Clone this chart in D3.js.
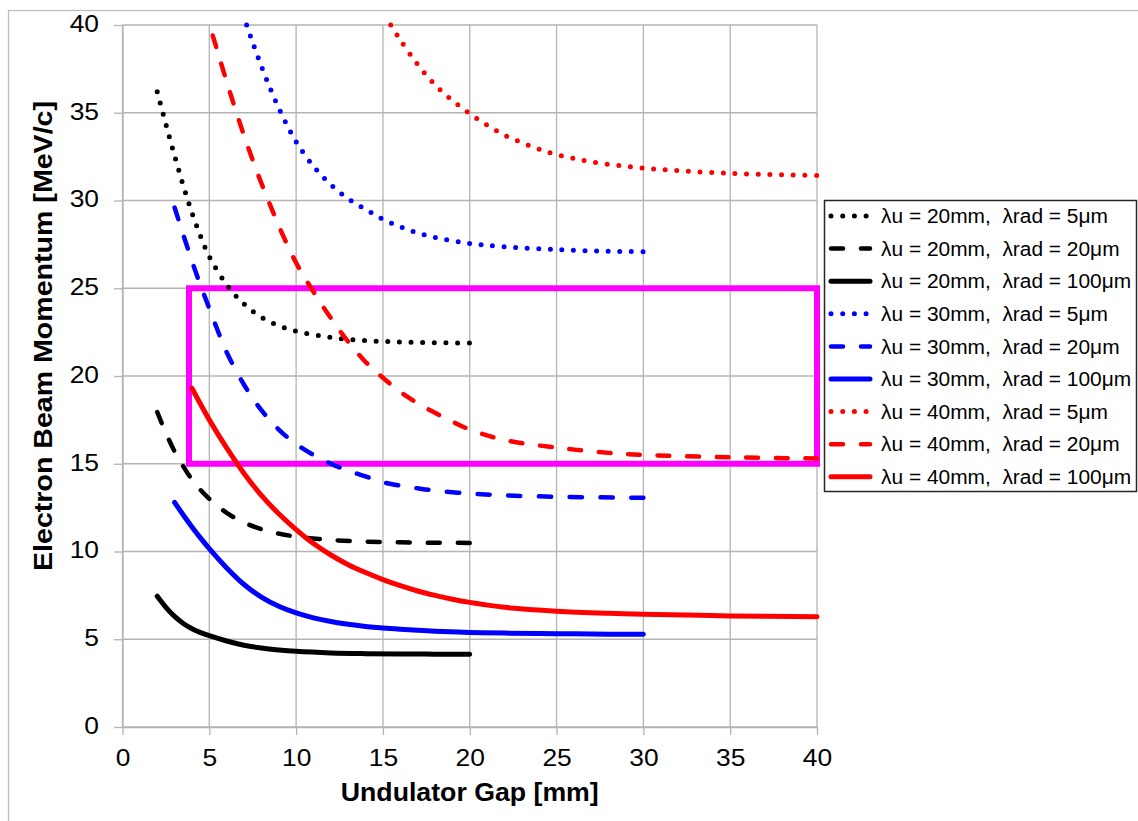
<!DOCTYPE html>
<html>
<head>
<meta charset="utf-8">
<script src="https://cdn.jsdelivr.net/npm/d3@7"></script>
<style>
  html, body { margin: 0; padding: 0; background: #ffffff; }
  svg { display: block; font-family: "Liberation Sans", Arial, Helvetica, sans-serif; }
  .pre { white-space: pre; }
</style>
</head>
<body>
<svg id="chart" width="1138" height="821"></svg>
<script>
// Axis ticks
const xTicks = [0, 5, 10, 15, 20, 25, 30, 35, 40];
const yTicks = [0, 5, 10, 15, 20, 25, 30, 35, 40];

// Undulator gap [mm] and beam momentum [MeV/c] for each (λu, λrad) pair
const gap20_5   = [2, 2.5, 3, 3.5, 4, 4.5, 5, 6, 7, 8, 9, 10, 12, 14, 16, 18, 20];
const mom20_5   = [36.2, 34.35, 32.55, 30.85, 29.3, 27.95, 26.8, 25.2, 24.1, 23.35, 22.87, 22.56, 22.2, 22.02, 21.94, 21.9, 21.88];
const gap20_20  = [2, 2.5, 3, 3.5, 4, 4.5, 5, 6, 7, 8, 9, 10, 12, 14, 16, 18, 20];
const mom20_20  = [17.95, 16.75, 15.7, 14.85, 14.1, 13.5, 13.0, 12.2, 11.65, 11.27, 11.02, 10.85, 10.66, 10.56, 10.52, 10.5, 10.49];
const gap20_100 = [2, 2.5, 3, 3.5, 4, 4.5, 5, 6, 7, 8, 9, 10, 12, 14, 16, 18, 20];
const mom20_100 = [7.45, 6.82, 6.3, 5.9, 5.6, 5.38, 5.2, 4.9, 4.66, 4.5, 4.39, 4.31, 4.22, 4.18, 4.16, 4.15, 4.14];

const gap30_5   = [7.15, 7.5, 8, 8.5, 9, 9.5, 10, 11, 12, 13, 14, 15, 16, 17, 18, 20, 22, 25, 28, 30];
const mom30_5   = [40, 39.0, 37.65, 36.4, 35.27, 34.25, 33.35, 31.95, 30.9, 30.1, 29.5, 28.93, 28.5, 28.15, 27.9, 27.55, 27.37, 27.2, 27.11, 27.08];
const gap30_20  = [3, 3.5, 4, 4.5, 5, 5.5, 6, 7, 8, 9, 10, 11, 12, 13, 14, 15, 16, 17, 18, 20, 22, 25, 30];
const mom30_20  = [29.6, 28.05, 26.55, 25.15, 23.85, 22.55, 21.35, 19.5, 18.05, 16.95, 16.12, 15.5, 15.0, 14.6, 14.28, 13.95, 13.75, 13.6, 13.47, 13.3, 13.2, 13.12, 13.06];
const gap30_100 = [3, 3.5, 4, 4.5, 5, 6, 7, 8, 9, 10, 11, 12, 13, 14, 15, 16, 17, 18, 20, 22, 25, 28, 30];
const mom30_100 = [12.8, 12.08, 11.4, 10.76, 10.16, 9.06, 8.12, 7.4, 6.88, 6.5, 6.22, 6.01, 5.85, 5.73, 5.64, 5.57, 5.51, 5.46, 5.39, 5.35, 5.32, 5.29, 5.28];

const gap40_5   = [15.45, 16, 17, 18, 19, 20, 21, 22, 23, 24, 25, 27, 30, 32, 35, 38, 40];
const mom40_5   = [40, 39.15, 37.75, 36.6, 35.7, 34.95, 34.3, 33.72, 33.3, 32.92, 32.62, 32.2, 31.85, 31.7, 31.55, 31.46, 31.42];
const gap40_20  = [5.2, 5.5, 6, 6.5, 7, 7.5, 8, 8.5, 9, 10, 11, 12, 13, 14, 15, 16, 17, 18, 19, 20, 22, 25, 28, 30, 35, 40];
const mom40_20  = [39.4, 38.4, 36.77, 35.2, 33.7, 32.3, 30.98, 29.75, 28.55, 26.45, 24.8, 23.3, 21.95, 20.8, 19.9, 19.1, 18.45, 17.9, 17.4, 16.95, 16.35, 15.92, 15.62, 15.5, 15.37, 15.3];
const gap40_100 = [4, 5, 6, 7, 8, 9, 10, 11, 12, 13, 14, 15, 16, 17, 18, 19, 20, 22, 25, 28, 30, 35, 40];
const mom40_100 = [19.3, 17.5, 15.9, 14.45, 13.2, 12.15, 11.25, 10.45, 9.8, 9.25, 8.8, 8.4, 8.05, 7.75, 7.5, 7.28, 7.1, 6.82, 6.6, 6.48, 6.43, 6.33, 6.28];

// Highlighted operating window: gap range and momentum range
const windowGap = [3.83, 40];
const windowMom = [15, 25];

const legendLabels = [
  "λu = 20mm,  λrad = 5μm",
  "λu = 20mm,  λrad = 20μm",
  "λu = 20mm,  λrad = 100μm",
  "λu = 30mm,  λrad = 5μm",
  "λu = 30mm,  λrad = 20μm",
  "λu = 30mm,  λrad = 100μm",
  "λu = 40mm,  λrad = 5μm",
  "λu = 40mm,  λrad = 20μm",
  "λu = 40mm,  λrad = 100μm"
];

const seriesGaps = [gap20_5, gap20_20, gap20_100, gap30_5, gap30_20, gap30_100, gap40_5, gap40_20, gap40_100];
const seriesMoms = [mom20_5, mom20_20, mom20_100, mom30_5, mom30_20, mom30_100, mom40_5, mom40_20, mom40_100];

// Line styles: colour by period, dash by wavelength
const periodColors = ["#000000", "#0000ff", "#ff0000"];
const styleByWavelength = [
  { width: 5,   kind: "dot" },
  { width: 4.5, kind: "dash" },
  { width: 5,   kind: "solid" }
];
const DOT_STEP = 11.7, DASH_ON = 12, DASH_OFF = 18;

const series = seriesGaps.map((g, i) => ({
  label: legendLabels[i],
  color: periodColors[Math.floor(i / 3)],
  style: styleByWavelength[i % 3],
  points: g.map((v, j) => [v, seriesMoms[i][j]])
}));

const svg = d3.select("#chart");
const plot = { left: 122.5, right: 817, top: 25, bottom: 727 };
const x = d3.scaleLinear().domain([0, 40]).range([plot.left, plot.right]);
const y = d3.scaleLinear().domain([0, 40]).range([plot.bottom, plot.top]);

const gridColor = "#b4b4b4";

function stretch(sel, k) {
  sel.each(function () {
    const w = this.getComputedTextLength();
    this.setAttribute("textLength", w * k);
    this.setAttribute("lengthAdjust", "spacingAndGlyphs");
  });
}

// Fit the dot/dash pattern to the path so it finishes on a mark
function fitDash(kind, len) {
  if (kind === "dot") {
    const n = Math.max(1, Math.round(len / DOT_STEP));
    return `0,${(len - 0.6) / n}`;
  }
  if (kind === "dash") {
    const p = DASH_ON + DASH_OFF;
    const n = Math.max(1, Math.round((len - DASH_ON) / p));
    const s = len / (n * p + DASH_ON);
    return `${DASH_ON * s},${DASH_OFF * s}`;
  }
  return null;
}

// Outer chart frame
svg.append("rect")
  .attr("x", 8.5).attr("y", 10.5)
  .attr("width", 1200).attr("height", 900)
  .attr("fill", "none").attr("stroke", "#bdbdbd").attr("stroke-width", 1.3);

// Grid lines
const grid = svg.append("g");
grid.selectAll("line.v").data(xTicks).join("line")
  .attr("x1", d => x(d)).attr("x2", d => x(d))
  .attr("y1", plot.top).attr("y2", plot.bottom)
  .attr("stroke", gridColor).attr("stroke-width", 1.3);
grid.selectAll("line.h").data(yTicks).join("line")
  .attr("x1", plot.left).attr("x2", plot.right)
  .attr("y1", d => y(d)).attr("y2", d => y(d))
  .attr("stroke", gridColor).attr("stroke-width", 1.3);

// Axes
const xAxis = svg.append("g")
  .attr("transform", `translate(0,${plot.bottom})`)
  .call(d3.axisBottom(x).tickValues(xTicks).tickSize(8).tickPadding(14).tickSizeOuter(0));
const yAxis = svg.append("g")
  .attr("transform", `translate(${plot.left},0)`)
  .call(d3.axisLeft(y).tickValues(yTicks).tickSize(8.5).tickPadding(15).tickSizeOuter(0));

[xAxis, yAxis].forEach(a => {
  a.select(".domain").attr("stroke", gridColor).attr("stroke-width", 1.3);
  a.selectAll(".tick line").attr("stroke", gridColor).attr("stroke-width", 1.3);
  a.selectAll(".tick text")
    .attr("font-family", "'Liberation Sans', Arial, sans-serif")
    .attr("font-size", 24).attr("fill", "#000");
});
yAxis.selectAll(".tick text").attr("dy", "0.27em");
stretch(xAxis.selectAll(".tick text"), 1.1);
stretch(yAxis.selectAll(".tick text"), 1.1);

// Axis titles
const xTitle = svg.append("text")
  .attr("x", (plot.left + plot.right) / 2).attr("y", 801)
  .attr("text-anchor", "middle")
  .attr("font-size", 26).attr("font-weight", "bold")
  .text("Undulator Gap [mm]");
xTitle.attr("textLength", 258).attr("lengthAdjust", "spacingAndGlyphs");

const yTitle = svg.append("text")
  .attr("transform", "translate(52,336) rotate(-90)")
  .attr("text-anchor", "middle")
  .attr("font-size", 25).attr("font-weight", "bold")
  .text("Electron Beam Momentum [MeV/c]");
yTitle.attr("textLength", 470).attr("lengthAdjust", "spacingAndGlyphs");

// Operating window
svg.append("rect")
  .attr("x", x(windowGap[0])).attr("y", y(windowMom[1]))
  .attr("width", x(windowGap[1]) - x(windowGap[0]))
  .attr("height", y(windowMom[0]) - y(windowMom[1]))
  .attr("fill", "none").attr("stroke", "#ff00ff").attr("stroke-width", 6);

// Curves
const line = d3.line().x(d => x(d[0])).y(d => y(d[1])).curve(d3.curveCatmullRom.alpha(0.5));
svg.append("g").selectAll("path").data(series).join("path")
  .attr("d", d => line(d.points))
  .attr("fill", "none")
  .attr("stroke", d => d.color)
  .attr("stroke-width", d => d.style.width)
  .attr("stroke-linecap", "round")
  .attr("stroke-linejoin", "round")
  .each(function (d) {
    const dash = fitDash(d.style.kind, this.getTotalLength());
    if (dash) this.setAttribute("stroke-dasharray", dash);
  });

// Legend
const legend = svg.append("g");
legend.append("rect")
  .attr("x", 824.5).attr("y", 200.5).attr("width", 312).attr("height", 291)
  .attr("fill", "#fff").attr("stroke", "#262626").attr("stroke-width", 1.5);
const rowY = i => 216 + i * 32.6;
const items = legend.selectAll("g.item").data(series).join("g")
  .attr("transform", (d, i) => `translate(0,${rowY(i)})`);
items.append("line")
  .attr("x1", 831).attr("x2", 870).attr("y1", 0).attr("y2", 0)
  .attr("stroke", d => d.color)
  .attr("stroke-width", d => d.style.width)
  .attr("stroke-dasharray", d => d.style.kind === "dot" ? `0,${DOT_STEP}` : d.style.kind === "dash" ? `${DASH_ON},${DASH_OFF}` : null)
  .attr("stroke-linecap", "round");
const legendText = items.append("text")
  .attr("class", "pre")
  .attr("x", 881).attr("y", 7.2)
  .attr("font-size", 20).attr("fill", "#000")
  .text(d => d.label);
stretch(legendText, 1.045);
</script>
</body>
</html>
